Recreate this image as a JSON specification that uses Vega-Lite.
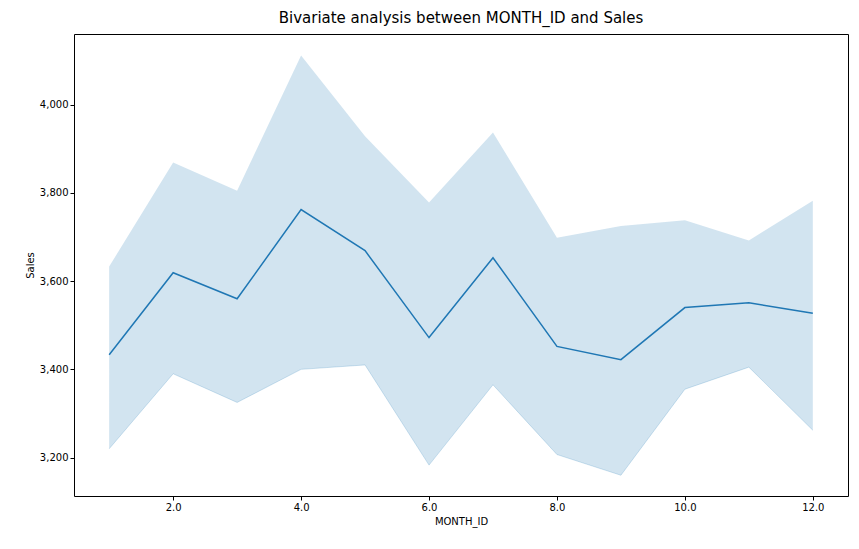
{
  "$schema": "https://vega.github.io/schema/vega-lite/v6.json",
  "width": 774,
  "height": 462,
  "autosize": {"type": "none"},
  "padding": {"left": 74, "top": 34, "right": 11, "bottom": 53},
  "background": "white",
  "title": {"text": "Bivariate analysis between MONTH_ID and Sales", "fontSize": 15, "font": "DejaVu Sans", "fontWeight": "normal", "color": "black", "offset": 8},
  "config": {
    "view": {"stroke": "black", "strokeWidth": 1},
    "axis": {"grid": false, "domain": false, "tickColor": "black", "labelColor": "black", "titleColor": "black", "labelFont": "DejaVu Sans", "titleFont": "DejaVu Sans", "labelFontSize": 10, "titleFontSize": 10, "titleFontWeight": "normal", "tickSize": 4}
  },
  "data": {"values": [
    {"MONTH_ID": 1, "Sales": 3433, "lo": 3220, "hi": 3633},
    {"MONTH_ID": 2, "Sales": 3619, "lo": 3390, "hi": 3869},
    {"MONTH_ID": 3, "Sales": 3560, "lo": 3325, "hi": 3805},
    {"MONTH_ID": 4, "Sales": 3762, "lo": 3400, "hi": 4111},
    {"MONTH_ID": 5, "Sales": 3669, "lo": 3410, "hi": 3928},
    {"MONTH_ID": 6, "Sales": 3472, "lo": 3183, "hi": 3778},
    {"MONTH_ID": 7, "Sales": 3653, "lo": 3365, "hi": 3937},
    {"MONTH_ID": 8, "Sales": 3452, "lo": 3207, "hi": 3698},
    {"MONTH_ID": 9, "Sales": 3422, "lo": 3160, "hi": 3725},
    {"MONTH_ID": 10, "Sales": 3540, "lo": 3355, "hi": 3738},
    {"MONTH_ID": 11, "Sales": 3551, "lo": 3405, "hi": 3692},
    {"MONTH_ID": 12, "Sales": 3527, "lo": 3262, "hi": 3782}
  ]},
  "layer": [
    {
      "mark": {"type": "area", "color": "#1f77b4", "opacity": 0.2, "line": {"color": "#1f77b4", "strokeOpacity": 0.2, "strokeWidth": 1}},
      "encoding": {
        "x": {"field": "MONTH_ID", "type": "quantitative", "scale": {"domain": [0.45, 12.55], "nice": false}, "axis": {"values": [2, 4, 6, 8, 10, 12]}},
        "y": {"field": "lo", "type": "quantitative", "scale": {"domain": [3113, 4160], "nice": false, "zero": false}, "axis": {"values": [3200, 3400, 3600, 3800, 4000]}, "title": "Sales"},
        "y2": {"field": "hi"}
      }
    },
    {
      "mark": {"type": "line", "color": "#1f77b4", "strokeWidth": 1.5},
      "encoding": {
        "x": {"field": "MONTH_ID", "type": "quantitative"},
        "y": {"field": "Sales", "type": "quantitative"}
      }
    }
  ]
}
